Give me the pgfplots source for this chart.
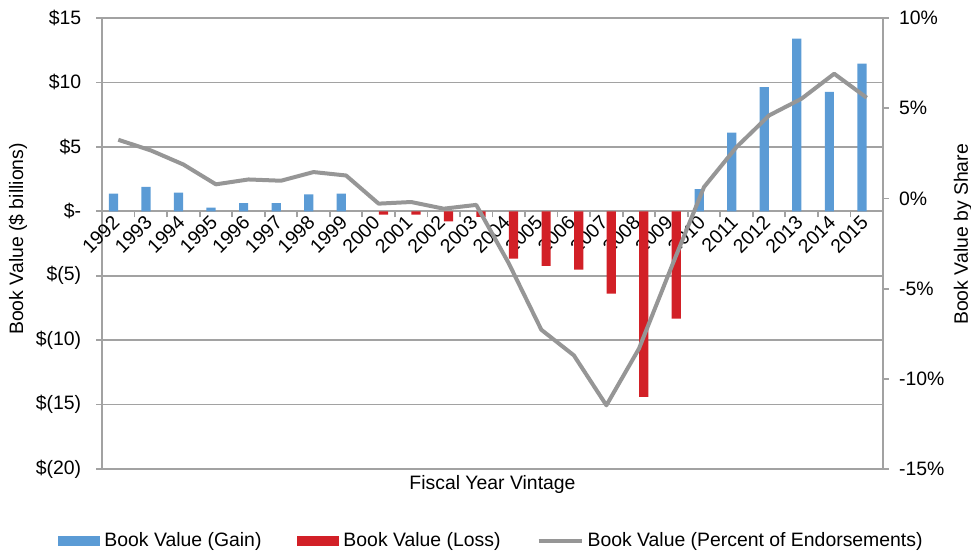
\documentclass[border=0pt]{standalone}
\usepackage{fontspec}
\setmainfont{Liberation Sans}
\usepackage{pgfplots}
\pgfplotsset{compat=1.18}

\definecolor{gainblue}{RGB}{91,155,213}
\definecolor{lossred}{RGB}{210,32,39}
\definecolor{sharegrey}{RGB}{150,150,150}
\definecolor{gridgrey}{RGB}{162,162,162}
\newcommand\myfont{\fontsize{9.7}{11.6}\selectfont}

\begin{document}
\begin{tikzpicture}
\path[use as bounding box] (-51pt,-42pt) rectangle (434.5pt,234.5pt);

% primary axis: book value in $ billions (bars)
\begin{axis}[
  scale only axis,
  width=390.5pt, height=225.5pt,
  xmin=1991.5, xmax=2015.5,
  ymin=-20, ymax=15,
  axis x line*=middle, axis y line*=left,
  hide obscured x ticks=false, hide obscured y ticks=false,
  axis line style={gridgrey, line width=0.9pt},
  ymajorgrids,
  grid style={gridgrey, line width=0.9pt},
  % tick marks between the categories, labels at the categories
  xtick={1991.5,1992.5,...,2015.5},
  xticklabel=\empty,
  x tick style={gridgrey, line width=0.9pt},
  xtick align=outside,
  extra x ticks={1992,...,2015},
  extra x tick labels={1992,1993,1994,1995,1996,1997,1998,1999,2000,2001,2002,2003,
    2004,2005,2006,2007,2008,2009,2010,2011,2012,2013,2014,2015},
  extra x tick style={major tick length=0pt, tick style={draw=none},
    xticklabel style={font=\myfont, rotate=45, anchor=east, yshift=-2pt}},
  ytick={-20,-15,...,15},
  yticklabels={\$(20),\$(15),\$(10),\$(5),\$-,\$5,\$10,\$15},
  ytick align=outside,
  y tick style={gridgrey, line width=0.9pt},
  major tick length=3pt,
  yticklabel style={font=\myfont, xshift=-3.9pt},
  xlabel={Fiscal Year Vintage},
  ylabel={Book Value (\$ billions)},
  every axis x label/.style={at={(axis description cs:0.5,-0.035)}, anchor=center, font=\myfont},
  every axis y label/.style={at={(axis description cs:-0.1075,0.51)}, rotate=90, anchor=center, font=\myfont},
  legend style={at={(0.5,-0.16)}, anchor=center, legend columns=3,
    draw=none, fill=none, font=\myfont,
    /tikz/every even column/.append style={column sep=16pt}},
]

\addplot[ybar, bar width=4.6pt, bar shift=-2.4pt, fill=gainblue, draw=none,
  legend image code/.code={\fill[gainblue] (0pt,-2.5pt) rectangle (21pt,2.5pt);}]
  coordinates {(1992,1.37) (1993,1.89) (1994,1.45) (1995,0.29) (1996,0.64)
    (1997,0.64) (1998,1.32) (1999,1.37) (2010,1.73) (2011,6.10) (2012,9.64)
    (2013,13.40) (2014,9.26) (2015,11.46)};
\addlegendentry{Book Value (Gain)}

\addplot[ybar, bar width=4.6pt, bar shift=2.4pt, fill=lossred, draw=none,
  legend image code/.code={\fill[lossred] (0pt,-2.5pt) rectangle (21pt,2.5pt);}]
  coordinates {(2000,-0.26) (2001,-0.26) (2002,-0.78) (2003,-0.44) (2004,-3.67)
    (2005,-4.24) (2006,-4.53) (2007,-6.39) (2008,-14.40) (2009,-8.33)};
\addlegendentry{Book Value (Loss)}

\addlegendimage{sharegrey, line width=2pt,
  legend image code/.code={\draw[sharegrey, line width=2pt] (0pt,0pt) -- (21.5pt,0pt);}}
\addlegendentry{Book Value (Percent of Endorsements)}
\end{axis}

% secondary axis: share in percent (line)
\begin{axis}[
  scale only axis,
  width=390.5pt, height=225.5pt,
  xmin=1991.5, xmax=2015.5,
  ymin=-15, ymax=10,
  axis x line=none, axis y line*=right,
  axis line style={gridgrey, line width=0.9pt},
  ytick={-15,-10,...,10},
  yticklabels={-15\%,-10\%,-5\%,0\%,5\%,10\%},
  ytick align=outside,
  y tick style={gridgrey, line width=0.9pt},
  major tick length=3pt,
  yticklabel style={font=\myfont, xshift=1.5pt},
  ylabel={Book Value by Share},
  every axis y label/.style={at={(axis description cs:1.1024,0.52)}, rotate=90, anchor=center, font=\myfont},
]
\addplot[sharegrey, line width=2pt, line join=round]
  coordinates {(1992,3.25) (1993,2.66) (1994,1.88) (1995,0.78) (1996,1.05)
    (1997,0.98) (1998,1.46) (1999,1.27) (2000,-0.29) (2001,-0.20) (2002,-0.57)
    (2003,-0.36) (2004,-3.60) (2005,-7.28) (2006,-8.70) (2007,-11.47)
    (2008,-8.33) (2009,-3.80) (2010,0.63) (2011,2.85) (2012,4.60) (2013,5.53)
    (2014,6.91) (2015,5.58)};
\end{axis}
\end{tikzpicture}
\end{document}
